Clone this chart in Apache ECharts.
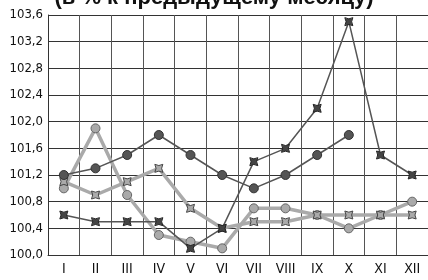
<!DOCTYPE html>
<html><head><meta charset="utf-8">
<script src="https://cdn.jsdelivr.net/npm/echarts@6/dist/echarts.min.js"></script>
<style>html,body{margin:0;padding:0;background:#fff}#c{width:428px;height:280px}</style>
</head><body><div id="c"></div>
<script>
var titleText = '(в % к предыдущему месяцу)';
var months = ['I','II','III','IV','V','VI','VII','VIII','IX','X','XI','XII'];
var darkCircle = [101.2,101.3,101.5,101.8,101.5,101.2,101.0,101.2,101.5,101.8];
var darkCross  = [100.6,100.5,100.5,100.5,100.1,100.4,101.4,101.6,102.2,103.5,101.5,101.2];
var lightCircle = [101.0,101.9,100.9,100.3,100.2,100.1,100.7,100.7,100.6,100.4,100.6,100.8];
var lightCross  = [101.1,100.9,101.1,101.3,100.7,100.4,100.5,100.5,100.6,100.6,100.6,100.6];

var crossPath = 'path://M0,0 Q5,3 10,0 Q7,5 10,10 Q5,7 0,10 Q3,5 0,0 Z';
var font = '"DejaVu Sans Condensed","Liberation Sans Narrow",sans-serif';

var chart = echarts.init(document.getElementById('c'));
chart.setOption({
  animation:false,
  backgroundColor:'#fff',
  title:{text:titleText,left:'center',top:-18,
    textStyle:{fontFamily:'"Liberation Sans",Arial,sans-serif',fontWeight:'bold',fontSize:22,color:'#111'}},
  grid:{left:48,top:15,right:-3,bottom:25},
  xAxis:{type:'category',data:months,boundaryGap:true,
    axisLine:{lineStyle:{color:'#333',width:1}},
    axisTick:{show:false},
    splitLine:{show:true,lineStyle:{color:'#555',width:1}},
    axisLabel:{interval:0,margin:7,fontFamily:font,fontSize:14,color:'#111'}},
  yAxis:{type:'value',min:100,max:103.6,interval:0.4,
    axisLine:{show:true,lineStyle:{color:'#333'}},
    axisTick:{show:false},
    splitLine:{lineStyle:{color:'#333',width:1}},
    axisLabel:{margin:5,fontFamily:font,fontSize:13,color:'#111',
      formatter:function(v){return v.toFixed(1).replace('.',',');}}},
  series:[
    {type:'line',data:lightCircle,symbol:'circle',symbolSize:9,z:2,
      lineStyle:{color:'#aaa',width:3.5},
      itemStyle:{color:'#aaa',borderColor:'#666',borderWidth:1}},
    {type:'line',data:lightCross,symbol:crossPath,symbolSize:8,z:3,
      lineStyle:{color:'#aaa',width:3.5},
      itemStyle:{color:'#aaa',borderColor:'#444',borderWidth:1}},
    {type:'line',data:darkCircle,symbol:'circle',symbolSize:9,z:4,
      lineStyle:{color:'#555',width:1.5},
      itemStyle:{color:'#555',borderColor:'#333',borderWidth:1}},
    {type:'line',data:darkCross,symbol:crossPath,symbolSize:8,z:5,
      lineStyle:{color:'#555',width:1.5},
      itemStyle:{color:'#444',borderColor:'#222',borderWidth:1}}
  ]
});
</script></body></html>
